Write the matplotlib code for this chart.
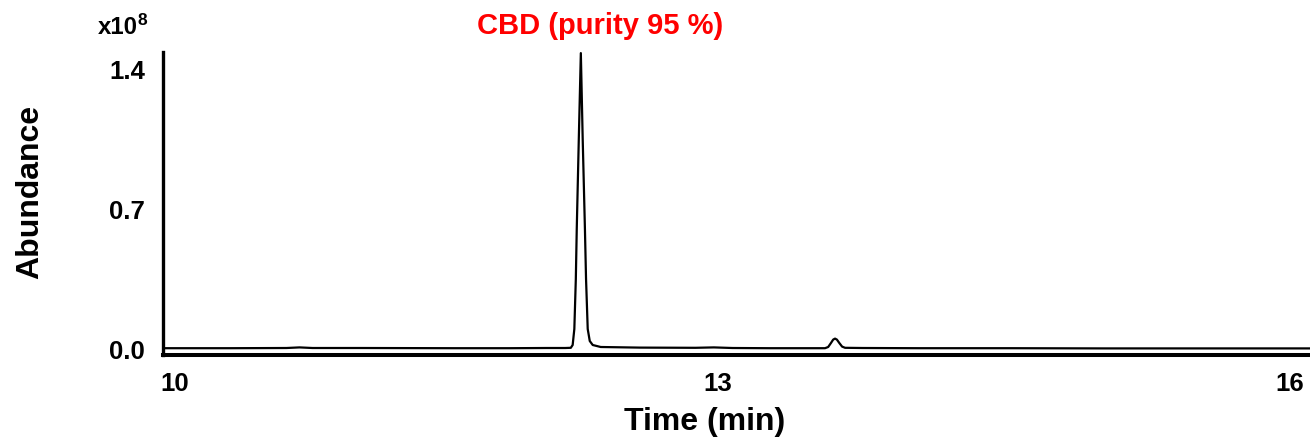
import numpy as np
import matplotlib.pyplot as plt
import matplotlib
from matplotlib import transforms
matplotlib.rcParams.update({'font.family': ['Liberation Sans', 'DejaVu Sans'], 'font.weight': 'bold'})

# retention time (min) and abundance (x1e8)
time_min = [9.937, 10.30, 10.60, 10.67, 10.74, 11.00, 11.50, 11.80, 12.00, 12.10,
            12.130, 12.140, 12.149, 12.157, 12.162, 12.173, 12.184, 12.194, 12.206,
            12.212, 12.221, 12.232, 12.248, 12.291, 12.50, 12.80, 12.90, 13.00,
            13.20, 13.40, 13.498, 13.515, 13.530, 13.542, 13.552, 13.562, 13.575,
            13.590, 13.606, 13.70, 14.00, 14.50, 15.00, 15.50, 16.00, 16.108]
abundance = [0.004, 0.004, 0.005, 0.008, 0.005, 0.005, 0.004, 0.004, 0.005, 0.005,
             0.006, 0.02, 0.10, 0.35, 0.60, 1.05, 1.48, 1.05, 0.60,
             0.35, 0.10, 0.04, 0.02, 0.01, 0.007, 0.006, 0.008, 0.005,
             0.004, 0.004, 0.004, 0.010, 0.030, 0.047, 0.052, 0.047, 0.030,
             0.012, 0.006, 0.005, 0.004, 0.004, 0.003, 0.003, 0.003, 0.003]

yticks = [0.0, 0.7, 1.4]
ytick_labels = ['0.0', '0.7', '1.4']
xticks = [10, 13, 16]
xtick_labels = ['10', '13', '16']

W, H = 1310, 440
fig = plt.figure(figsize=(13.1, 4.4), dpi=100)
ax = fig.add_axes([163.3 / W, (H - 355.3) / H, 1 - 163.3 / W, (355.3 - 52) / H])

ax.plot(time_min, abundance, color='black', lw=1.6)

ax.set_xlim(9.937, 16.108)
ax.set_ylim(-0.0315, 1.4855)
ax.set_yticks(yticks)
ax.set_yticklabels(ytick_labels)
ax.set_xticks(xticks)
ax.set_xticklabels(xtick_labels)
ax.tick_params(length=0, labelsize=18.5)
ax.tick_params(axis='y', pad=13)
ax.tick_params(axis='x', pad=12)

# the middle label sits a bit left of its tick in the original
lab13 = ax.get_xticklabels()[1]
lab13.set_transform(lab13.get_transform() + transforms.ScaledTranslation(-15 / 100, 0, fig.dpi_scale_trans))

for s in ['top', 'right']:
    ax.spines[s].set_visible(False)
ax.spines['left'].set_linewidth(2.4)
ax.spines['bottom'].set_linewidth(2.9)

fig.text(705 / W, 1 - 430 / H, 'Time (min)', fontsize=23, fontweight='bold',
         ha='center', va='baseline')
fig.text(30 / W, 1 - 192 / H, 'Abundance', rotation=90, fontsize=23,
         fontweight='bold', ha='center', va='center')

fig.text(98 / W, 1 - 34 / H, 'x10', fontsize=17.3, fontweight='bold', ha='left', va='baseline')
fig.text(138 / W, 1 - 25 / H, '8', fontsize=12.5, fontweight='bold', ha='left', va='baseline')

fig.text(600 / W, 1 - 26 / H, 'CBD (purity 95 %)', color='red', fontsize=21,
         fontweight='bold', ha='center', va='center')

fig.savefig('out.png', dpi=100)
